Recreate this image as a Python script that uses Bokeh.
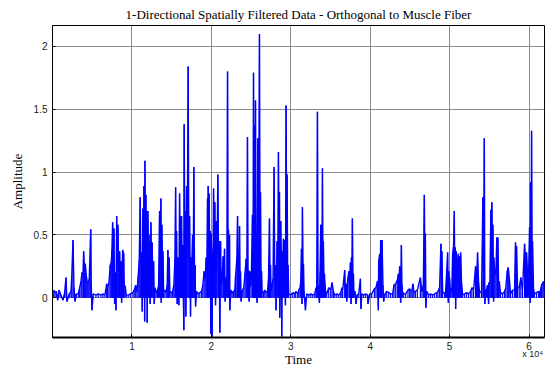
from bokeh.plotting import figure
from bokeh.models import Range1d, FixedTicker, LinearAxis
from bokeh.embed import file_html
from bokeh.resources import INLINE

# Samples: time (samples) and amplitude
time_samples = [
    150, 310, 480, 650, 820, 1070, 1320, 1530, 1700, 1820, 2110, 2330, 2420, 2580, 2700, 2830,
    2990, 3250, 3420, 3590, 3710, 3840, 3920, 4050, 4130, 4250, 4380, 4500, 4630, 4810, 4880,
    4970, 5130, 5470, 5760, 6100, 6350, 6600, 6820, 6940, 7110, 7270, 7400, 7480, 7570, 7650,
    7740, 7820, 7900, 7990, 8080, 8150, 8240, 8330, 8450, 8530, 8620, 8700, 8830, 8960, 9030,
    9160, 9280, 9530, 9790,
    10130, 10290, 10470, 10630, 10790, 10920, 11040, 11130, 11220, 11300, 11380, 11470, 11510,
    11600, 11640, 11720, 11760, 11850, 11890, 11920, 12010, 12100, 12140, 12230, 12260, 12300,
    12390, 12480, 12550, 12640, 12730, 12810, 12890, 13060, 13230, 13360, 13480, 13560, 13650,
    13690, 13770, 13860, 13900, 13990, 14150, 14320, 14440, 14530, 14620, 14690, 14780, 14940,
    15120, 15280, 15410, 15500, 15570, 15620, 15700, 15790, 15870, 15910, 16000, 16080, 16130,
    16200, 16250, 16330, 16380, 16450, 16540, 16580, 16670, 16700, 16790, 16880, 16960, 17080,
    17170, 17260, 17330, 17380, 17420, 17510, 17640, 17710, 17800, 17890, 17960, 18010, 18140,
    18340, 18550, 18770, 18930, 19090, 19220, 19350, 19430, 19520, 19560, 19600, 19690, 19720,
    19810, 19850, 19900, 19940, 19980,
    20060, 20100, 20150, 20230, 20280, 20350, 20440, 20530, 20600, 20690, 20820, 20910, 20980,
    21070, 21160, 21230, 21360, 21490, 21570, 21660, 21740, 21860, 21950, 22040, 22110, 22160,
    22240, 22290, 22330, 22450, 22620, 22790, 22960, 23040, 23210, 23300, 23370, 23420, 23500,
    23550, 23620, 23670, 23750, 23880, 24090, 24250, 24380, 24470, 24550, 24630, 24680, 24760,
    24840, 25010, 25180, 25260, 25310, 25380, 25430, 25510, 25560, 25640, 25690, 25760, 25850,
    25940, 26060, 26140, 26190, 26270, 26320, 26390, 26570, 26730, 26890, 27070, 27200, 27320,
    27400, 27450, 27520, 27650, 27770, 27900, 27990, 28080, 28150, 28280, 28370, 28450, 28530,
    28580, 28620, 28740, 28830, 28870, 28910, 28990, 29080, 29160, 29250, 29330, 29410, 29500,
    29540, 29620, 29660, 29750,
    30000, 30250, 30500, 30630, 30880, 31010, 31170, 31260, 31350, 31420, 31470, 31550, 31600,
    31670, 31850, 32010, 32270, 32520, 32770, 33020, 33180, 33270, 33360, 33440, 33490, 33610,
    33690, 33780, 33810, 33900, 33940, 33990, 34060, 34110, 34190, 34240, 34370, 34530, 34780,
    35030, 35200, 35370, 35540, 35790, 36040, 36290, 36450, 36540, 36790, 36880, 36960, 37050,
    37170, 37330, 37420, 37510, 37590, 37640, 37710, 37760, 37840, 37890, 37960, 38090, 38220,
    38340, 38560, 38770, 38840, 38930, 39180, 39440, 39690, 39720, 39940,
    40190, 40530, 40730, 40910, 41030, 41070, 41200, 41280, 41320, 41410, 41490, 41610, 41700,
    41860, 42080, 42330, 42580, 42830, 43000, 43210, 43420, 43550, 43620, 43710, 43840, 43930,
    44000, 44050, 44220, 44470, 44760, 44970, 45130, 45260, 45390, 45510, 45690, 45940, 46320,
    46520, 46690, 46820, 46900, 46950, 47020, 47110, 47360, 47610, 47860, 48120, 48370, 48530,
    48740, 48910, 49000, 49030, 49120, 49370, 49500, 49620, 49750, 49840, 49880,
    50000, 50130, 50290, 50380, 50500, 50590, 50670, 50720, 50760, 50840, 50920, 50970, 51100,
    51170, 51220, 51300, 51390, 51510, 51640, 51890, 52140, 52390, 52640, 52810, 53020, 53270,
    53400, 53520, 53650, 53780, 54030, 54190, 54280, 54370, 54440, 54530, 54660, 54780, 54910,
    54950, 55070, 55200, 55250, 55320, 55410, 55450, 55540, 55570, 55700, 55830, 55950, 56040,
    56080, 56170, 56250, 56420, 56670, 56920, 57080, 57260, 57390, 57510, 57680, 57930, 58180,
    58300, 58390, 58430, 58560, 58770, 58970, 59180, 59440, 59560, 59690, 59810, 59940,
    60070, 60150, 60190, 60280, 60320, 60400, 60440, 60570, 60690, 60950, 61200, 61320, 61450,
    61580, 61740, 61870, 61950,
]

amplitude = [
    0.06, 0.04, 0.05, -0.02, 0.06, 0.02, -0.02, 0.04, 0.16, -0.03, 0.03, 0.05, 0.16, 0.46, 0.08, -0.03,
    0.03, 0.03, 0.08, 0.13, 0.20, 0.19, 0.37, 0.20, 0.27, 0.18, 0.12, 0.12, 0.15, 0.545, 0.10,
    -0.10, 0.03, 0.02, 0.03, 0.02, 0.03, 0.02, 0.11, 0.08, 0.12, 0.26, 0.28, 0.38, 0.60, 0.30,
    0.55, -0.05, 0.20, -0.10, 0.65, 0.25, 0.58, 0.20, 0.37, 0.15, 0.29, -0.04, 0.38, 0.35, 0.10,
    0.09, 0.02, 0.02, 0.03,
    0.04, 0.06, 0.10, 0.04, 0.17, 0.30, 0.80, 0.25, 0.36, -0.11, 0.71, 0.40, 0.89,
    -0.19, 1.09, 0.30, 0.82, 0.20, 0.69, -0.20, 0.69, 0.25, 0.50, 0.20, 0.45, -0.05,
    0.60, 0.20, 0.44, 0.10, 0.29, -0.05, 0.08, 0.04, 0.06, 0.10, 0.69, 0.30, 0.79,
    -0.04, 0.58, 0.20, 0.37, 0.05, 0.06, 0.04, 0.10, 0.38, 0.15, 0.32, 0.05, 0.04,
    0.05, 0.10, 0.30, 0.88, 0.20, 0.53, -0.05, 0.32, 0.20, -0.06, 0.83, 0.30, 0.65,
    0.20, 0.65, 0.15, 0.42, 0.10, -0.26, 1.38, 0.30, 0.69, -0.15, 0.89, 0.30, 1.84,
    0.30, 0.65, 0.20, -0.15, 0.32, 0.20, 0.50, 0.15, 1.04, 0.10, 0.26, -0.07, 0.05,
    0.03, 0.04, 0.05, 0.10, 0.21, 0.15, 0.32, 0.20, 0.79, 0.30, 0.89, 0.30, 0.83,
    0.20, 0.53, 0.10, -0.29, 0.51,
    0.20, -0.31, 0.28, 0.40, 0.87, 0.20, 0.76, -0.06, 0.61, 0.20, 0.98, 0.30, 0.45,
    -0.28, 0.45, 0.10, 0.16, 0.33, 0.10, 0.39, -0.03, 0.16, 0.10, 1.80, 0.20, 0.54,
    0.15, 0.50, -0.10, 0.06, 0.04, 0.05, 0.06, 0.16, 0.31, 0.65, 0.10, 0.37, 0.15,
    0.57, 0.10, 0.21, -0.03, 0.05, 0.08, 0.20, 0.31, 0.15, 1.28, 0.10, 0.22, -0.03,
    0.21, 0.08, 0.66, 0.20, 1.79, 0.30, 1.37, 0.20, 1.57, 0.10, 0.21, -0.04, 1.27,
    0.20, 2.10, 0.20, 0.84, 0.05, 0.21, 0.05, 0.04, 0.06, 0.04, 0.05, 0.15, 0.63,
    0.10, 0.26, 0.05, 0.10, 0.15, 1.04, 0.10, 0.26, -0.10, 0.45, 0.20, 1.16, 0.30,
    0.84, -0.16, 0.61, 0.20, -0.31, 0.37, 0.20, 0.47, 0.10, 0.46, -0.06, 1.53, 0.30,
    0.98, 0.10, 0.26, 0.03,
    0.02, 0.04, 0.03, 0.05, 0.03, 0.06, 0.08, 0.13, 0.39, -0.05, 0.72, 0.20, 0.27,
    0.05, -0.10, 0.03, 0.02, 0.03, 0.02, 0.03, 0.08, 0.05, 1.48, 0.10, 0.08, -0.04,
    0.20, 0.58, 0.30, 0.58, 0.20, 1.03, 0.20, 0.45, 0.10, 0.19, 0.05, 0.03, 0.08,
    0.06, 0.12, 0.05, 0.02, 0.03, 0.02, 0.04, 0.08, 0.06, 0.22, 0.05, 0.11, -0.03,
    0.15, 0.21, 0.10, 0.28, -0.05, 0.32, 0.20, 0.63, 0.10, 0.19, 0.02, 0.05, -0.05,
    0.02, 0.03, 0.15, -0.09, 0.03, 0.02, 0.03, 0.02, -0.05, 0.03,
    0.03, 0.07, 0.08, 0.13, -0.10, 0.29, 0.35, 0.10, 0.46, 0.15, 0.46, 0.10, -0.03,
    0.03, 0.05, 0.04, 0.03, 0.03, 0.10, 0.11, 0.14, 0.19, 0.10, 0.25, -0.04, 0.42,
    0.10, 0.05, 0.03, 0.03, 0.06, 0.07, 0.05, 0.06, 0.11, 0.04, 0.05, 0.06, 0.16,
    0.04, 0.10, 0.82, 0.20, 0.51, -0.08, 0.05, 0.02, 0.03, 0.02, 0.03, 0.04, 0.05,
    0.08, 0.43, 0.10, 0.37, 0.05, 0.03, 0.05, 0.19, 0.36, -0.04, 0.21,
    0.15, 0.03, 0.08, 0.35, 0.41, 0.69, 0.10, 0.40, -0.09, 0.37, 0.10, 0.26, 0.35,
    0.10, 0.33, 0.05, 0.36, 0.11, 0.02, 0.03, 0.04, 0.03, 0.05, 0.08, 0.06, 0.25,
    0.10, 0.36, 0.12, 0.04, 0.05, 0.80, 0.20, 1.27, -0.05, 0.05, 0.07, 0.10, -0.05,
    0.12, 0.11, 0.70, 0.20, 0.76, 0.30, 0.58, -0.03, 0.32, 0.18, 0.20, 0.48, 0.15,
    0.48, 0.10, 0.13, 0.04, 0.03, 0.05, 0.08, 0.21, 0.24, 0.16, 0.03, 0.06, 0.06,
    0.44, 0.10, 0.41, 0.08, 0.08, 0.16, 0.06, 0.43, 0.30, 0.36, 0.20, 0.17,
    0.56, -0.04, 0.92, 0.30, 1.33, 0.20, 0.45, 0.07, 0.03, 0.04, 0.05, 0.02, 0.06,
    0.10, 0.12, 0.13, 0.06,
]

x_tick_values = [10000, 20000, 30000, 40000, 50000, 60000]
x_tick_labels = ["1", "2", "3", "4", "5", "6"]
y_tick_values = [0, 0.5, 1, 1.5, 2]
y_tick_labels = ["0", "0.5", "1", "1.5", "2"]

title_text = "1-Directional Spatially Filtered Data - Orthogonal to Muscle Fiber"
x_label = "Time"
y_label = "Amplitude"
x_scale_note = "x 10\u2074"
x_scale_note_at = 60450

SERIF = "Liberation Serif"
SANS = "Liberation Sans"

p = figure(width=545, height=370, output_backend="svg", toolbar_location=None,
           x_range=Range1d(0, 61950), y_range=Range1d(-0.317, 2.167),
           min_border_left=52, min_border_right=1, min_border_top=24, min_border_bottom=33,
           background_fill_color="white", border_fill_color="white")

p.title.text = title_text
p.title.align = "center"
p.title.text_font = SERIF
p.title.text_font_size = "13px"
p.title.text_font_style = "normal"
p.title.text_color = "black"
p.title.standoff = 8

p.outline_line_color = "black"
p.outline_line_width = 1

# main axes
p.xaxis.ticker = FixedTicker(ticks=x_tick_values)
p.xaxis.major_label_overrides = dict(zip(x_tick_values, x_tick_labels))
p.yaxis.ticker = FixedTicker(ticks=y_tick_values)
p.yaxis.major_label_overrides = dict(zip(y_tick_values, y_tick_labels))
for ax in (p.xaxis, p.yaxis):
    ax.major_tick_in = 3
    ax.major_tick_out = 0
    ax.minor_tick_line_color = None
    ax.axis_line_color = "black"
    ax.major_tick_line_color = "black"
    ax.major_label_text_font = SANS
    ax.major_label_text_font_size = "10px"
    ax.major_label_text_color = "#222222"
    ax.axis_label_text_font = SERIF
    ax.axis_label_text_font_size = "13px"
    ax.axis_label_text_font_style = "normal"
    ax.axis_label_text_color = "black"
p.xaxis.axis_line_width = 2
p.xaxis.major_label_standoff = 4
p.yaxis.axis_label = y_label
p.yaxis.major_label_standoff = 5
p.yaxis.axis_label_standoff = 6

# second row below: exponent note (as a tick label) and the axis title
note_axis = LinearAxis(ticker=FixedTicker(ticks=[x_scale_note_at]),
                       major_label_overrides={x_scale_note_at: x_scale_note},
                       axis_label=x_label)
note_axis.axis_line_color = None
note_axis.major_tick_line_color = None
note_axis.minor_tick_line_color = None
note_axis.major_tick_in = 0
note_axis.major_tick_out = 0
note_axis.major_label_text_font = SANS
note_axis.major_label_text_font_size = "9px"
note_axis.major_label_text_color = "#222222"
note_axis.major_label_standoff = -4
note_axis.axis_label_text_font = SERIF
note_axis.axis_label_text_font_size = "13px"
note_axis.axis_label_text_font_style = "normal"
note_axis.axis_label_text_color = "black"
note_axis.axis_label_standoff = -10
p.add_layout(note_axis, "below")

p.xgrid.ticker = FixedTicker(ticks=x_tick_values)
p.ygrid.ticker = FixedTicker(ticks=y_tick_values)
for g in (p.xgrid, p.ygrid):
    g.grid_line_color = "#8c8c8c"
    g.grid_line_width = 1

# signal: stems from the zero line plus the trace through the samples
p.segment(x0=time_samples, y0=[0] * len(time_samples), x1=time_samples, y1=amplitude,
          line_color="#0000ff", line_width=1.2)
p.line(time_samples, amplitude, line_color="#0000ff", line_width=1.4)

open("out.html", "w").write(file_html(p, INLINE))
